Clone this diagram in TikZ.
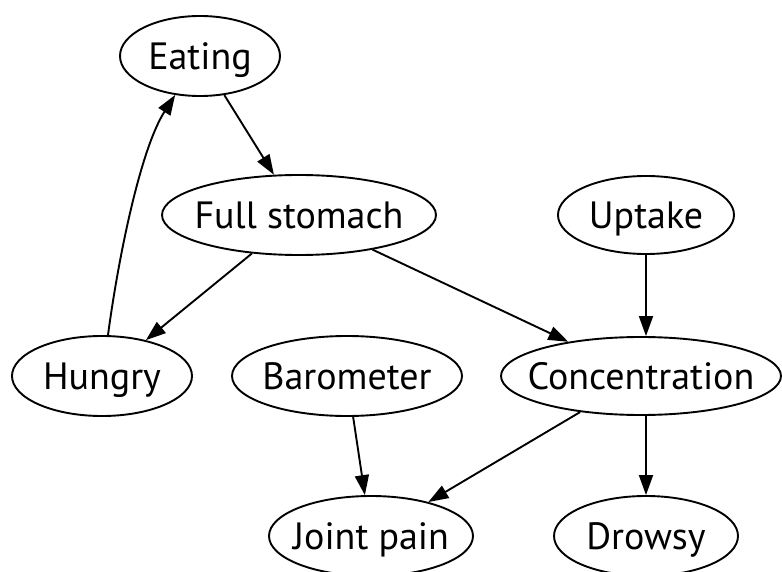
\documentclass[tikz,border=0pt]{standalone}
\usepackage{fontspec}
\setmainfont{PT Sans}
\usetikzlibrary{shapes.geometric,arrows.meta}
% zero-width label box, so each ellipse keeps its own fixed size
\newcommand{\varname}[1]{\makebox[0pt]{#1}}
\begin{document}
\begin{tikzpicture}[x=1pt,y=-1pt,
  state/.style={ellipse,draw,line width=1.9pt,inner sep=0pt,
    text height=26.5pt,text depth=0pt,
    font=\fontsize{38}{42}\selectfont},
  link/.style={line width=1.9pt,-{Triangle[length=20pt,width=14pt]}}]
\useasboundingbox (0,0) rectangle (782,572);
% variables
\node[state,minimum width=160,minimum height=80] (eat) at (200,56) {\varname{Eating}};
\node[state,minimum width=274,minimum height=80] (full) at (299,215) {\varname{Full stomach}};
\node[state,minimum width=176,minimum height=78] (up) at (646,215) {\varname{Uptake}};
\node[state,minimum width=180,minimum height=80] (hun) at (102,376) {\varname{Hungry}};
\node[state,minimum width=230,minimum height=80] (baro) at (347,376) {\varname{Barometer}};
\node[state,minimum width=280,minimum height=78] (conc) at (641,376) {\varname{Concentration}};
\node[state,minimum width=204,minimum height=80] (joint) at (371,536) {\varname{Joint pain}};
\node[state,minimum width=184,minimum height=80] (drow) at (646,536) {\varname{Drowsy}};
% dependencies
\draw[link] (eat) -- (full);
\draw[link] (full) -- (hun);
\draw[link] ([xshift=6]hun.north) .. controls (118,260) and (140,150) .. (eat);
\draw[link] (full) -- (conc);
\draw[link] (up) -- (up |- conc.north);
\draw[link] (baro) -- (joint);
\draw[link] (conc) -- (joint);
\draw[link] (drow |- conc.south) -- (drow);
\end{tikzpicture}
\end{document}
